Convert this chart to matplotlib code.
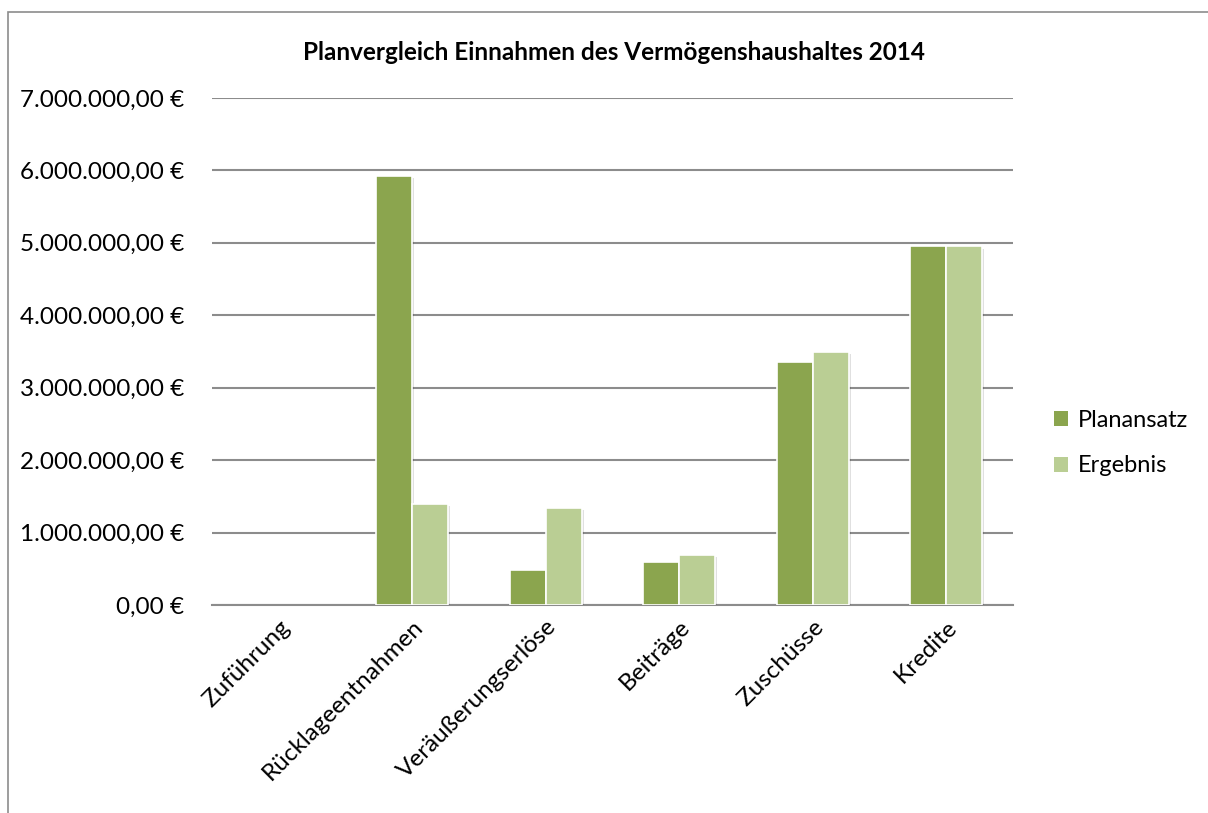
import numpy as np
import matplotlib.pyplot as plt
import matplotlib.patheffects as pe
from matplotlib.patches import Rectangle
from matplotlib.ticker import FuncFormatter

categories = ['Zuführung', 'Rücklageentnahmen', 'Veräußerungserlöse',
              'Beiträge', 'Zuschüsse', 'Kredite']
planansatz = [0, 5920000, 490000, 600000, 3350000, 4950000]
ergebnis = [0, 1400000, 1335000, 686000, 3500000, 4950000]

plt.rcParams['font.family'] = ['Lato', 'DejaVu Sans']

fig = plt.figure(figsize=(12.08, 8.13), dpi=100)
ax = fig.add_axes([0.1755, 0.2558, 0.8386 - 0.1755, 0.8795 - 0.2558])

x = np.arange(len(categories))
w = 0.27
shadow = [pe.SimplePatchShadow(offset=(1.5, -1.5), shadow_rgbFace='#000000', alpha=0.12), pe.Normal()]
b1 = ax.bar(x - w / 2, planansatz, w, color='#8BA54E', edgecolor='white', linewidth=1.2,
            label='Planansatz', zorder=3)
b2 = ax.bar(x + w / 2, ergebnis, w, color='#BACE94', edgecolor='white', linewidth=1.2,
            label='Ergebnis', zorder=3)
for b in list(b1) + list(b2):
    if b.get_height() > 0:
        b.set_path_effects(shadow)
    else:
        b.set_linewidth(0)

ax.set_xlim(-0.5, len(categories) - 0.5)
ax.set_ylim(0, 7000000)
ax.set_yticks(np.arange(0, 7000001, 1000000))


def euro(v, pos):
    s = '{:,.2f}'.format(v).replace(',', 'X').replace('.', ',').replace('X', '.')
    return s + ' €'


ax.yaxis.set_major_formatter(FuncFormatter(euro))
ax.yaxis.grid(True, color='#8c8c8c', linewidth=1.5, zorder=0)
ax.set_axisbelow(True)
for s in ['top', 'right', 'left']:
    ax.spines[s].set_visible(False)
ax.spines['bottom'].set_color('#8c8c8c')
ax.spines['bottom'].set_linewidth(1.5)
ax.tick_params(axis='y', length=0, pad=20, labelsize=17.5)
ax.tick_params(axis='x', length=0, pad=8, labelsize=17.5)
ax.set_xticks(x)
ax.set_xticklabels(categories, rotation=45, ha='right', rotation_mode='anchor')

fig.text(0.508, 0.935, 'Planvergleich Einnahmen des Vermögenshaushaltes 2014',
         ha='center', va='center', fontsize=17.5, fontweight='bold')

fig.legend(handles=[b1, b2], loc='center left', bbox_to_anchor=(0.855, 0.455),
           frameon=False, fontsize=17, handlelength=0.6, handleheight=0.6,
           handletextpad=0.4, labelspacing=1.05)

fig.add_artist(Rectangle((0.007, -0.01), 1.0, 0.995, transform=fig.transFigure,
                         fill=False, edgecolor='#8c8c8c', linewidth=1.2))

fig.savefig('out.png', dpi=100)
